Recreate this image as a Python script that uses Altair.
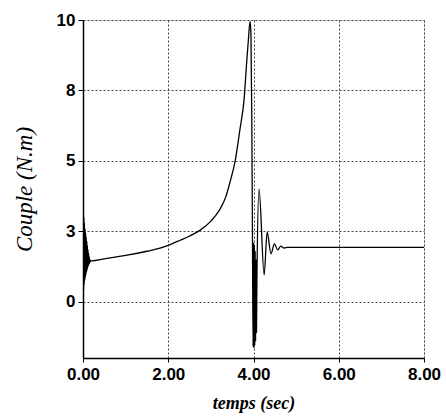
import altair as alt
import pandas as pd

# time (s) and torque (N.m)
t_vals = [0.000, 0.006, 0.013, 0.020, 0.027, 0.034, 0.041, 0.048, 0.055, 0.062,
          0.069, 0.076, 0.083, 0.090, 0.097, 0.104, 0.111, 0.118, 0.125, 0.132,
          0.139, 0.146, 0.153, 0.160, 0.170, 0.180,
          0.20, 0.50, 1.00, 1.50, 1.81, 2.00, 2.28, 2.50, 2.75, 3.00, 3.20, 3.35, 3.45,
          3.57, 3.68, 3.78, 3.84, 3.88, 3.92, 3.94, 3.96, 3.975, 3.99,
          4.000, 4.010, 4.020, 4.030, 4.040, 4.050, 4.060, 4.070, 4.080,
          4.130, 4.250, 4.320, 4.410, 4.490, 4.570, 4.640, 4.720, 4.800, 8.000]
c_vals = [0.0, 3.2, 0.4, 3.0, 0.6, 2.8, 0.75, 2.6, 0.85, 2.45,
          0.95, 2.3, 1.05, 2.15, 1.12, 2.0, 1.2, 1.85, 1.27, 1.72,
          1.32, 1.6, 1.36, 1.5, 1.42, 1.45,
          1.45, 1.52, 1.64, 1.79, 1.90, 2.00, 2.18, 2.33, 2.54, 2.86, 3.25, 3.72, 4.25,
          5.00, 6.10, 7.20, 8.50, 9.30, 9.95, 9.50, 6.50, 2.50, -1.60,
          2.10, -1.65, 2.00, -1.55, 1.80, -1.40, 1.50, -1.10, 0.80,
          4.00, 0.95, 2.47, 1.70, 2.05, 1.84, 1.97, 1.90, 1.93, 1.93]

x_ticks = [0, 2, 4, 6, 8]
y_ticks = [0, 2.5, 5, 7.5, 10]

df = pd.DataFrame({"t": t_vals, "c": c_vals, "i": list(range(len(t_vals)))})

chart = alt.Chart(df).mark_line(color="black", strokeWidth=1.3, clip=True,
                                interpolate="monotone").encode(
    x=alt.X("t:Q", scale=alt.Scale(domain=[0, 8], nice=False, zero=False),
            axis=alt.Axis(values=x_ticks, format=".2f", title="temps (sec)",
                          titleFont="Liberation Serif", titleFontStyle="italic",
                          titleFontWeight="bold", titleFontSize=18,
                          titleY=50, titleBaseline="alphabetic",
                          labelFont="Liberation Sans", labelFontWeight="bold",
                          labelFontSize=17, labelColor="black", labelFlush=False,
                          tickSize=4, labelPadding=4, tickColor="black",
                          domainColor="black", domainWidth=1.5,
                          gridColor="#444", gridDash=[2, 2], gridWidth=1)),
    y=alt.Y("c:Q", scale=alt.Scale(domain=[-2, 10], nice=False, zero=False),
            axis=alt.Axis(values=y_ticks, labelExpr="format(datum.value, '.0f')",
                          title="Couple (N.m)",
                          titleFont="Liberation Serif", titleFontStyle="italic",
                          titleFontWeight="normal", titleFontSize=23,
                          titleX=-52, titleBaseline="alphabetic",
                          labelFont="Liberation Sans", labelFontWeight="bold",
                          labelFontSize=17, labelColor="black", labelFlush=False,
                          tickSize=5, labelPadding=3, tickColor="black",
                          domainColor="black", domainWidth=1.5,
                          gridColor="#444", gridDash=[2, 2], gridWidth=1)),
    order="i:Q",
).properties(
    width=341, height=338,
    autosize=alt.AutoSizeParams(type="none"),
    padding={"left": 83, "top": 20, "right": 22, "bottom": 59},
).configure_view(stroke=None).configure(background="white")

chart.save("out.html", embed_options={"renderer": "svg", "actions": False})
